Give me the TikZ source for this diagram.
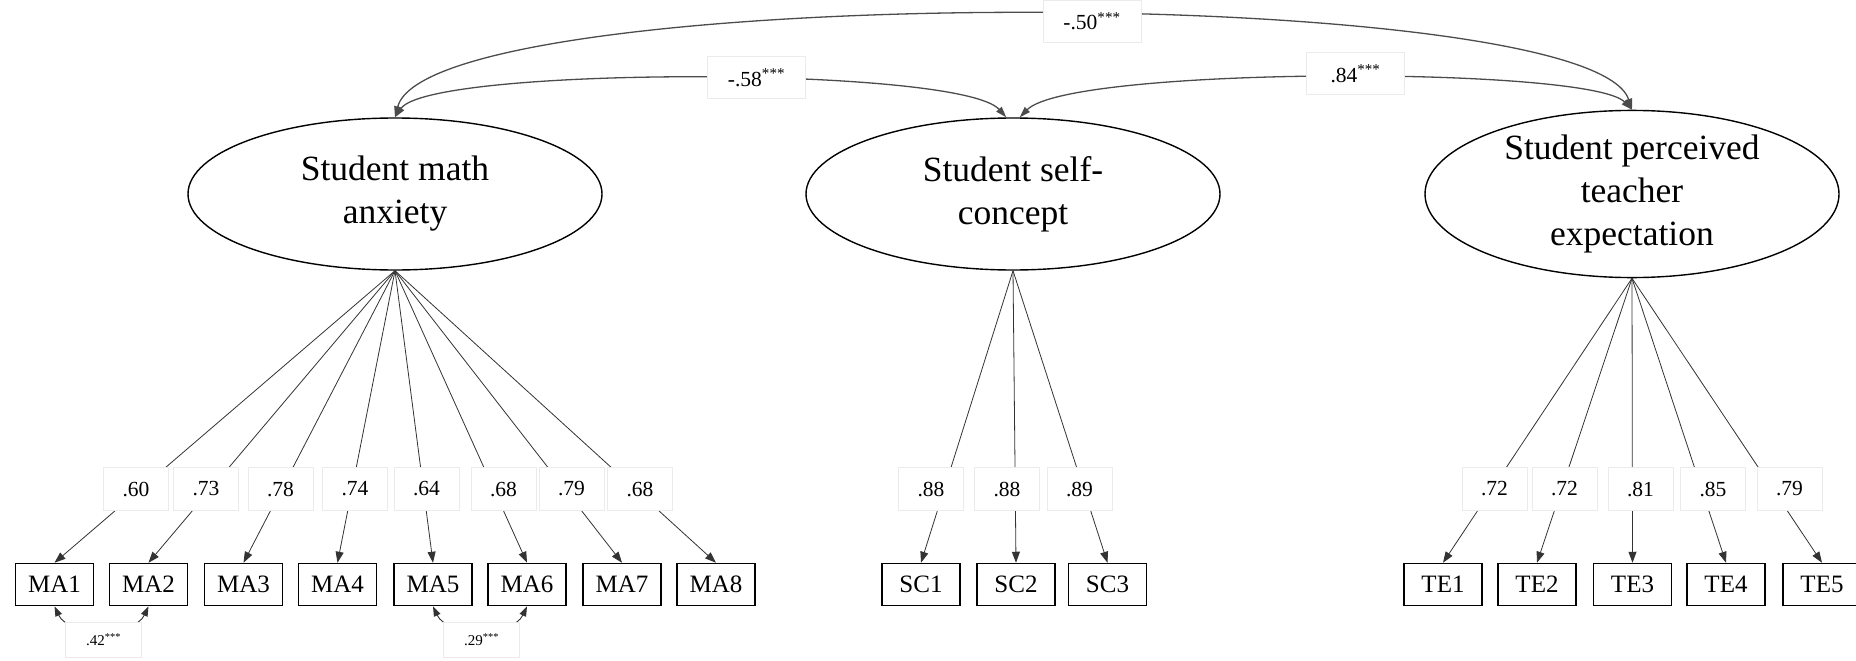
\documentclass[tikz,border=0pt]{standalone}
\usepackage{fontspec}
\setmainfont{Liberation Serif}
\usetikzlibrary{arrows.meta,shapes.geometric,calc}

\begin{document}
\begin{tikzpicture}[x=1pt,y=-1pt,
  latent/.style={ellipse,draw,line width=1.4pt,minimum width=414pt,minimum height=152pt,
    inner sep=0pt,align=center,font=\fontsize{35.5}{43}\selectfont},
  indicator/.style={rectangle,draw,line width=1.5pt,minimum width=78pt,minimum height=42pt,
    inner sep=0pt,font=\fontsize{25}{28}\selectfont},
  loading/.style={draw=black!8,fill=white,minimum width=65pt,minimum height=43pt,
    inner sep=0pt,font=\fontsize{21.5}{25}\selectfont},
  corr/.style={draw=black!8,fill=white,minimum width=98pt,minimum height=42pt,
    inner sep=0pt,font=\fontsize{21.5}{25}\selectfont},
  errcorr/.style={draw=black!8,fill=white,minimum width=76pt,minimum height=35pt,
    inner sep=0pt,font=\fontsize{15}{18}\selectfont},
  ldg/.style={draw=black!80,line width=0.8pt,-{Triangle[length=11pt,width=8pt]}},
  cov/.style={draw=black!70,line width=1.3pt,
    {Triangle[length=11pt,width=7pt]}-{Triangle[length=11pt,width=7pt]}},
  errcov/.style={draw=black!80,line width=0.9pt,
    {Triangle[length=10pt,width=7pt]}-{Triangle[length=10pt,width=7pt]}},
]
\useasboundingbox (0,0) rectangle (1856,661);

% latent factors
\node[latent] (E1) at (395,194) {Student math\\anxiety};
\node[latent] (E2) at (1013,194) {Student self-\\concept};
\node[latent] (E3) at (1632,194) {Student perceived\\teacher\\expectation};

% observed indicators
\foreach \n/\x in {1/54.5,2/148.5,3/243.5,4/337.5,5/433,6/527,7/622,8/716}
  \node[indicator] (MA\n) at (\x,584.5) {MA\n};
\foreach \n/\x in {1/921,2/1016,3/1107.5}
  \node[indicator] (SC\n) at (\x,584.5) {SC\n};
\foreach \n/\x in {1/1443,2/1537,3/1632.5,4/1726,5/1822}
  \node[indicator] (TE\n) at (\x,584.5) {TE\n};

% factor loadings
\foreach \n in {1,...,8} \draw[ldg] (E1.south) -- (MA\n.north);
\foreach \n in {1,2,3} \draw[ldg] (E2.south) -- (SC\n.north);
\foreach \n in {1,...,5} \draw[ldg] (E3.south) -- (TE\n.north);

% factor correlations
\draw[cov] (E1.north) .. controls (430,-18) and (1590,-18) .. (E3.north);
\draw[cov] (E1.north) .. controls (430,66) and (960,66) .. (E2.95);
\draw[cov] (E2.85) .. controls (1070,66) and (1590,66) .. (E3.north);

% correlated residuals
\draw[errcov] (MA1.south) .. controls +(14,30) and +(-14,30) .. (MA2.south);
\draw[errcov] (MA5.south) .. controls +(14,30) and +(-14,30) .. (MA6.south);

% loading labels
\foreach \n/\x/\v in {1/136/.60,2/206/.73,3/280.5/.78,4/355/.74,5/426.5/.64,6/503.5/.68,7/571.5/.79,8/640/.68}
  \node[loading] (LMA\n) at (\x,489) {\v};
\foreach \n/\x/\v in {1/931/.88,2/1007/.88,3/1079.5/.89}
  \node[loading] (LSC\n) at (\x,489) {\v};
\foreach \n/\x/\v in {1/1494.5/.72,2/1564.5/.72,3/1640.5/.81,4/1713/.85,5/1789.5/.79}
  \node[loading] (LTE\n) at (\x,489) {\v};

% correlation labels
\node[corr] (C13) at (1092,21) {-.50\textsuperscript{***}};
\node[corr] (C12) at (756.5,77.5) {-.58\textsuperscript{***}};
\node[corr] (C23) at (1355.5,73.5) {.84\textsuperscript{***}};
\node[errcorr] (R12) at (103.5,640) {.42\textsuperscript{***}};
\node[errcorr] (R56) at (481.5,640) {.29\textsuperscript{***}};
\end{tikzpicture}
\end{document}
